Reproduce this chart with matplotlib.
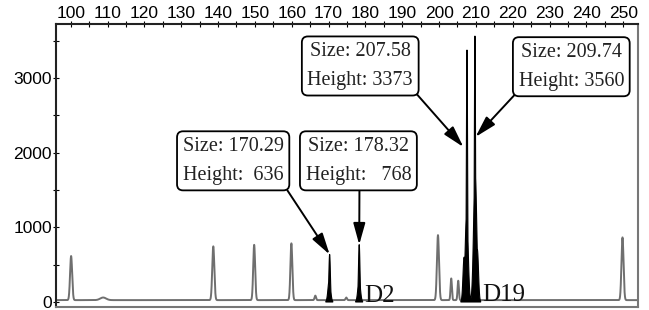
import numpy as np
import matplotlib
matplotlib.use("Agg")
import matplotlib.pyplot as plt
from matplotlib.ticker import MultipleLocator

# ---- data ----
# gray (size standard / other) peaks: position (bp), height (RFU), width (sigma, bp)
gray_pos = [100.1, 108.8, 138.7, 149.8, 159.9, 166.4, 174.8, 199.7, 203.3, 205.2, 249.8]
gray_height = [590, 35, 720, 740, 760, 60, 35, 870, 290, 260, 840]
gray_sigma = [0.28, 0.8, 0.28, 0.26, 0.26, 0.2, 0.2, 0.28, 0.18, 0.18, 0.28]

# black (allele) peaks: narrow spikes plus broader bases
black_pos = [170.29, 170.2, 178.32, 178.3, 207.58, 207.5, 206.8, 209.74, 209.8, 210.4]
black_height = [636, 300, 768, 300, 3373, 1200, 600, 3560, 1750, 700]
black_sigma = [0.20, 0.35, 0.20, 0.35, 0.16, 0.40, 0.30, 0.16, 0.42, 0.30]
baseline_level = 25

annot_texts = ["Size: 170.29\nHeight:  636", "Size: 178.32\nHeight:   768",
               "Size: 207.58\nHeight: 3373", "Size: 209.74\nHeight: 3560"]
annot_tip = [(170.29, 636), (178.32, 768), (206.6, 2075), (209.9, 2210)]
annot_box = [(144.1, 1890), (178.1, 1890), (178.6, 3160), (235.9, 3150)]
annot_rel = [(1.0, 0.0), (0.51, 0.0), (1.0, 0.0), (0.0, 0.0)]

marker_labels = ["D2", "D19"]
marker_pos = [(179.6, 0), (211.7, 15)]

x_ticks = list(range(100, 251, 10))
y_ticks = [0, 1000, 2000, 3000]

# ---- build traces ----
x = np.arange(96, 254, 0.01)
gray = np.full_like(x, baseline_level, dtype=float)
for p, h, s in zip(gray_pos, gray_height, gray_sigma):
    gray += h * np.exp(-0.5 * ((x - p) / s) ** 2)
black = np.zeros_like(x)
for p, h, s in zip(black_pos, black_height, black_sigma):
    black = np.maximum(black, h * np.exp(-0.5 * ((x - p) / s) ** 2))

fig = plt.figure(figsize=(6.49, 3.10), dpi=100)
ax = fig.add_axes([0.0863, 0.0097, 0.8967, 0.9129])

ax.plot(x, gray, color="#6f6f6f", lw=1.4, zorder=2)
ax.fill_between(x, 0, black, where=black > 8, color="black", lw=0.8, zorder=3)

ax.set_xlim(96, 254)
ax.set_ylim(-67, 3722)

ax.xaxis.tick_top()
ax.set_xticks(x_ticks)
ax.set_xticklabels([str(v) for v in x_ticks])
ax.xaxis.set_minor_locator(MultipleLocator(5))
ax.set_yticks(y_ticks)
ax.yaxis.set_minor_locator(MultipleLocator(500))
ax.tick_params(axis="x", which="both", direction="inout", length=4, width=0.8,
               pad=0.5, labelsize=12.5, colors="black")
ax.tick_params(axis="y", which="both", direction="inout", length=4, width=0.8,
               pad=1, labelsize=12.5)
for lab in ax.get_xticklabels() + ax.get_yticklabels():
    lab.set_fontfamily("Liberation Sans")

for side in ["left", "top"]:
    ax.spines[side].set_linewidth(1.5)
    ax.spines[side].set_color("#222222")
for side in ["right", "bottom"]:
    ax.spines[side].set_linewidth(1.5)
    ax.spines[side].set_color("#777777")

for txt, tip, box, rel in zip(annot_texts, annot_tip, annot_box, annot_rel):
    ax.annotate(txt, xy=tip, xytext=box, textcoords="data",
                ha="center", va="center", fontsize=14.5, family="Liberation Serif",
                linespacing=1.7, color="#222222",
                bbox=dict(boxstyle="round,pad=0.28,rounding_size=0.3", fc="white",
                          ec="black", lw=1.3),
                arrowprops=dict(arrowstyle="-|>,head_length=0.9,head_width=0.25",
                                color="black", lw=1.4, shrinkA=0, shrinkB=0,
                                relpos=rel),
                zorder=5)

for lab, pos in zip(marker_labels, marker_pos):
    ax.text(pos[0], pos[1], lab, fontsize=18, family="Liberation Serif",
            ha="left", va="baseline", color="#111111", zorder=4)

fig.savefig("out.png", dpi=100)
